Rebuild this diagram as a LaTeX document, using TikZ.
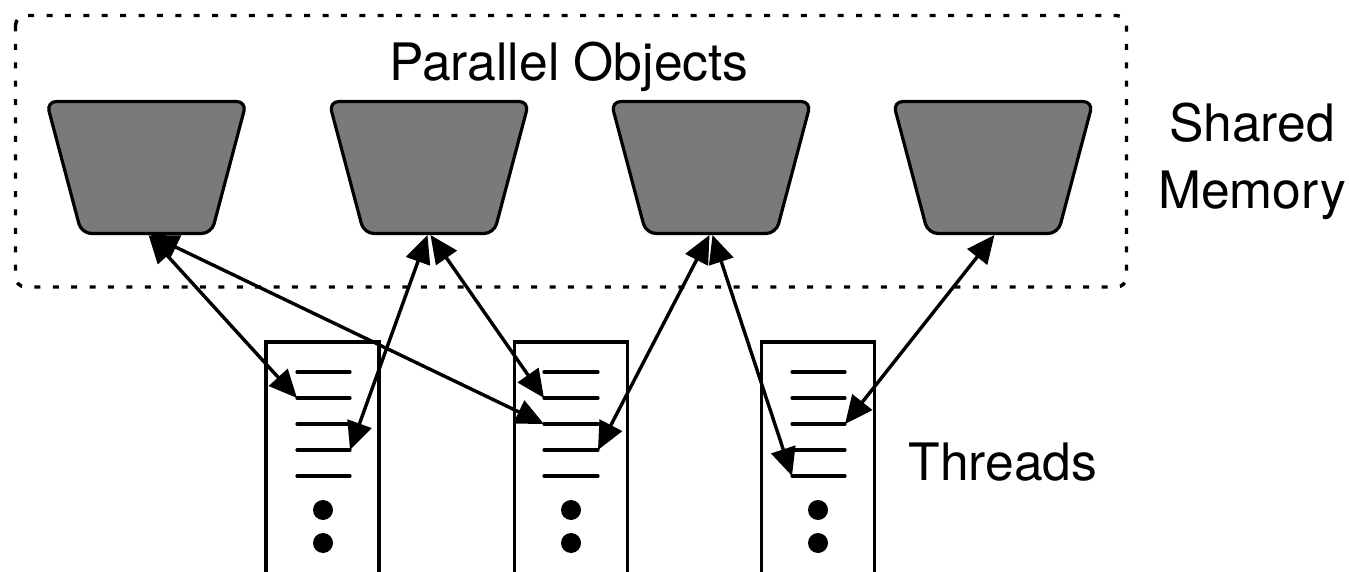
\documentclass[tikz,border=0pt]{standalone}
\usepackage{fontspec}
\setmainfont{TeX Gyre Heros}
\usetikzlibrary{arrows.meta}
\definecolor{trapgray}{RGB}{122,122,122}
\tikzset{
  trapshape/.style={draw=black, line width=1.6pt, fill=trapgray, rounded corners=5pt},
  threadbox/.style={draw=black, line width=1.6pt, minimum width=56.5pt, minimum height=130pt, inner sep=0pt},
  tline/.style={line width=1.6pt, line cap=round},
  tdot/.style={fill=black},
  biarrow/.style={line width=1.7pt, {Triangle[length=14pt,width=12.5pt]}-{Triangle[length=14pt,width=12.5pt]}},
  grouprect/.style={line width=1.7pt, dash pattern=on 3pt off 6.2pt, rounded corners=5pt},
  lbl/.style={font=\fontsize{25.8}{33}\selectfont, inner sep=0pt, anchor=base}
}
\begin{document}
\begin{tikzpicture}[x=0.5pt,y=-0.5pt]
\useasboundingbox (0,0) rectangle (1349,572);
\clip (0,0) rectangle (1349,572);
\fill[white] (0,0) rectangle (1349,572);
% group rectangle
\draw[grouprect] (15.5,15.5) rectangle (1126.5,287);
\node[lbl] (po) at (569,81) {Parallel Objects};
\node[lbl] (sh) at (1252,142) {Shared};
\node[lbl] (me) at (1252,209) {Memory};
\node[lbl] (th) at (1003,480) {Threads};
% parallel objects
\foreach \k/\cx in {1/146.5, 2/429, 3/711, 4/993} {
  \draw[trapshape] (\cx-100,101.5) -- (\cx+100,101.5) -- (\cx+65,233.5) -- (\cx-65,233.5) -- cycle;
  \coordinate (t\k a) at (\cx+2,235);
  \coordinate (t\k b) at (\cx+4,235);
  \coordinate (t\k l) at (\cx-1.5,235);
  \coordinate (t\k r) at (\cx+1.5,235);
}
% thread boxes
\node[threadbox] (b1) at (322.5,472) {};
\node[threadbox] (b2) at (571,472) {};
\node[threadbox] (b3) at (818,472) {};
\foreach \b/\L/\R/\C in {1/297/350/323, 2/544/598/571, 3/792/845/818} {
  \foreach \i/\y in {1/372,2/398,3/424,4/450,5/476} {
    \draw[tline] (\L,\y) coordinate (b\b w\i) -- (\R,\y) coordinate (b\b e\i);
  }
  \fill[tdot] (\C,510) circle (5pt);
  \fill[tdot] (\C,543) circle (5pt);
}
% connectors
\draw[biarrow] (t1a) -- (b1w2);
\draw[biarrow] (t1b) -- (b2w3);
\draw[biarrow] (t2l) -- (b1e4);
\draw[biarrow] (t2r) -- (b2w2);
\draw[biarrow] (t3l) -- (b2e4);
\draw[biarrow] (t3r) -- (b3w5);
\draw[biarrow] (t4r) -- (b3e3);
\end{tikzpicture}
\end{document}
